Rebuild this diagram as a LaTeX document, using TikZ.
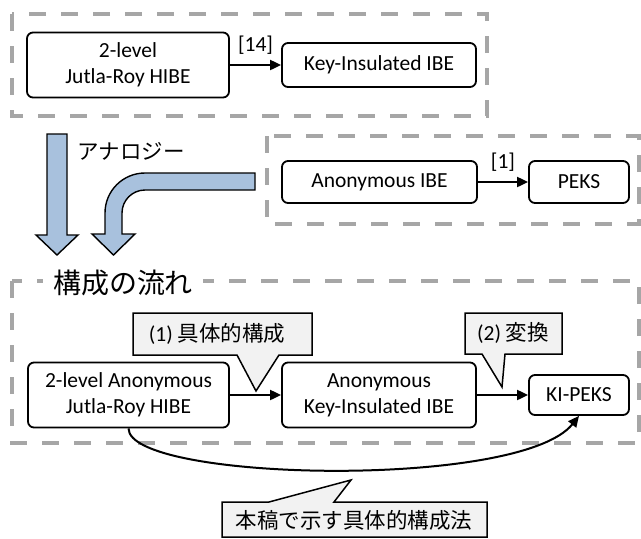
\documentclass[tikz,border=0pt]{standalone}
\usepackage{fontspec}
\setmainfont{Carlito}
\newfontfamily\jp{Noto Sans CJK JP}
\usetikzlibrary{arrows.meta}
\definecolor{dashgray}{RGB}{166,166,166}
\definecolor{arrowblue}{RGB}{168,193,221}
\definecolor{calloutgray}{RGB}{242,242,242}
\begin{document}
\begin{tikzpicture}[x=1pt, y=-1pt,
  txt/.style={font=\fontsize{21.5}{26}\selectfont, inner sep=0pt, align=center},
  box/.style={txt, draw, line width=1.8pt, rounded corners=6pt, fill=white},
  arr/.style={line width=2pt, -{Triangle[length=11pt,width=10pt]}},
  group/.style={draw=dashgray, line width=4pt, dash pattern=on 17pt off 15pt},
  bigarrow/.style={draw=black, line width=1.4pt, fill=arrowblue, line join=miter},
  callout/.style={draw=black, line width=1.5pt, fill=calloutgray, line join=miter}]
\useasboundingbox (0,0) rectangle (641,539);

% dashed grouping frames
\draw[group] (12,14) rectangle (487,116);
\draw[group] (267,136) rectangle (639,224);
\draw[group] (12,281) rectangle (639,443);

% top row: known construction
\node[box, minimum width=202pt, minimum height=65pt] (hibe) at (128,65) {2-level\\Jutla-Roy HIBE};
\node[box, minimum width=194pt, minimum height=44pt] (kiibe) at (379,65) {Key-Insulated IBE};
\draw[arr] (hibe) -- (kiibe) node[txt, midway, above=10pt] (ref14) {[14]};

% second row: anonymous IBE to PEKS
\node[box, minimum width=195pt, minimum height=42pt] (anonibe) at (379.5,182) {Anonymous IBE};
\node[box, minimum width=100pt, minimum height=42pt] (peks) at (579,182) {PEKS};
\draw[arr] (anonibe) -- (peks) node[txt, midway, above=10pt] (ref1) {[1]};

% analogy arrows
\draw[bigarrow] (47,134) -- (67,134) -- (67,235) -- (78,235) -- (57,255) -- (36,235) -- (47,235) -- cycle;
\draw[bigarrow] (255,173) -- (145,173) .. controls (122.9,173) and (105,190.9) .. (105,213)
  -- (105,234) -- (92,234) -- (113.5,255) -- (135,234) -- (122,234) -- (122,213)
  .. controls (122,200.3) and (132.3,190) .. (145,190) -- (255,190) -- cycle;
\node[txt] (analogy) at (131,151) {\jp アナロジー};

% title of the lower frame
\node[txt, fill=white, inner xsep=10pt, inner ysep=2pt, font=\fontsize{28}{30}\selectfont] (flow) at (123,283) {\jp 構成の流れ};

% lower row: proposed construction
\node[box, minimum width=201pt, minimum height=65pt] (A) at (128.5,395) {2-level Anonymous\\Jutla-Roy HIBE};
\node[box, minimum width=194pt, minimum height=65pt] (B) at (379,395) {Anonymous\\Key-Insulated IBE};
\node[box, minimum width=100pt, minimum height=40pt] (C) at (579,395) {KI-PEKS};
\draw[arr] (A) -- (B);
\draw[arr] (B) -- (C);
\draw[arr] (A.south) .. controls +(0,53) and +(-59,74) .. (C.south);

% callouts
\draw[callout] (133,313) -- (312,313) -- (312,355) -- (279,355) -- (256,391) -- (237,355) -- (133,355) -- cycle;
\node[txt] (step1) at (217,334) {(1) {\jp 具体的構成}};
\draw[callout] (465,313) -- (562,313) -- (562,354) -- (505,354) -- (502,387) -- (482,354) -- (465,354) -- cycle;
\node[txt] (step2) at (513,333) {(2) {\jp 変換}};
\draw[callout] (222,502) -- (269,502) -- (351,480) -- (334,502) -- (487,502) -- (487,537) -- (222,537) -- cycle;
\node[txt] (direct) at (354,520) {\jp 本稿で示す具体的構成法};
\end{tikzpicture}
\end{document}
